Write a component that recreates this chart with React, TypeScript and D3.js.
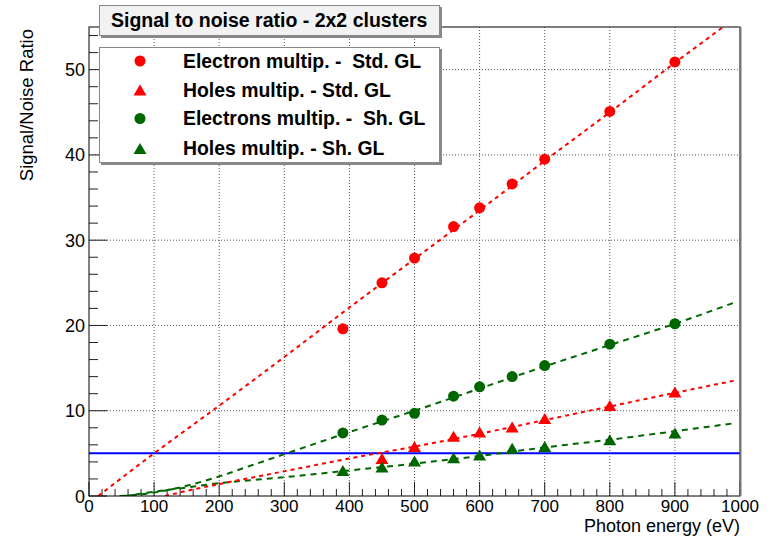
import React, { useEffect, useRef } from "react";
import * as d3 from "d3";

// energies (eV) of the measured points
const energies = [390, 450, 500, 560, 600, 650, 700, 800, 900];
const energiesHolesStd = [450, 500, 560, 600, 650, 700, 800, 900];

// signal / noise values
const electronStd = [19.6, 25.0, 27.9, 31.6, 33.8, 36.6, 39.5, 45.1, 50.9];
const holesStd = [4.4, 5.8, 7.0, 7.5, 8.1, 9.1, 10.6, 12.2];
const electronSh = [7.4, 8.9, 9.7, 11.7, 12.8, 14.0, 15.3, 17.8, 20.2];
const holesSh = [3.0, 3.4, 4.1, 4.5, 4.8, 5.6, 5.8, 6.6, 7.4];

// fit curves as [energy, S/N]
const fitElectronStd: [number, number][] = [
  [14, 0], [100, 5.0], [200, 10.6], [300, 16.3], [400, 22.1], [500, 27.8],
  [600, 33.5], [700, 39.3], [800, 45.0], [900, 50.8], [974, 55],
];
const fitHolesStd: [number, number][] = [
  [117, 0], [150, 0.6], [200, 1.4], [300, 2.9], [400, 4.4], [500, 5.8],
  [600, 7.3], [700, 8.9], [800, 10.5], [900, 12.1], [996, 13.6],
];
const fitElectronSh: [number, number][] = [
  [47, 0], [75, 0.15], [100, 0.4], [150, 1.2], [200, 2.3], [250, 3.6],
  [300, 4.9], [400, 7.5], [500, 10.0], [600, 12.6], [700, 15.2],
  [800, 17.7], [900, 20.2], [992, 22.7],
];
const fitHolesSh: [number, number][] = [
  [55, 0], [100, 0.5], [150, 1.0], [200, 1.5], [300, 2.2], [400, 3.0],
  [500, 3.8], [600, 4.7], [700, 5.7], [800, 6.6], [900, 7.6], [988, 8.5],
];

const threshold = 5;

const legendLabels = [
  "Electron multip. -  Std. GL",
  "Holes multip. - Std. GL",
  "Electrons multip. -  Sh. GL",
  "Holes multip. - Sh. GL",
];

const xMajor = d3.range(0, 1001, 100);
const xMinor = d3.range(0, 1001, 20);
const yMajor = d3.range(0, 51, 10);
const yMinor = d3.range(0, 55, 2);

const RED = "#ff0000";
const GREEN = "#006600";
const FONT = "'Liberation Sans', Arial, Helvetica, sans-serif";

const triPath = "M0,-5.5L6.5,5.5L-6.5,5.5Z";

function App() {
  const ref = useRef<SVGSVGElement>(null);

  useEffect(() => {
    const svg = d3.select(ref.current);
    svg.selectAll("*").remove();

    const left = 89, right = 740, top = 27, bottom = 496;
    const x = d3.scaleLinear().domain([0, 1000]).range([left, right]);
    const y = d3.scaleLinear().domain([0, 55]).range([bottom, top]);

    svg.append("defs").append("clipPath").attr("id", "frame")
      .append("rect").attr("x", left).attr("y", top)
      .attr("width", right - left).attr("height", bottom - top);

    // frame background
    svg.append("rect").attr("x", left).attr("y", top)
      .attr("width", right - left).attr("height", bottom - top)
      .attr("fill", "white");

    // grid
    const grid = svg.append("g").attr("stroke", "#555").attr("stroke-width", 1)
      .attr("stroke-dasharray", "1,2");
    grid.selectAll(".gx").data(xMajor.slice(1, -1)).enter().append("line")
      .attr("x1", (d) => x(d)).attr("x2", (d) => x(d))
      .attr("y1", top).attr("y2", bottom);
    grid.selectAll(".gy").data(yMajor.slice(1)).enter().append("line")
      .attr("x1", left).attr("x2", right)
      .attr("y1", (d) => y(d)).attr("y2", (d) => y(d));

    // ticks
    const ticks = svg.append("g").attr("stroke", "#222").attr("stroke-width", 1);
    ticks.selectAll(".tx").data(xMinor).enter().append("line")
      .attr("x1", (d) => x(d)).attr("x2", (d) => x(d))
      .attr("y1", bottom)
      .attr("y2", (d) => bottom - (d % 100 === 0 ? 14 : 7));
    ticks.selectAll(".ty").data(yMinor).enter().append("line")
      .attr("y1", (d) => y(d)).attr("y2", (d) => y(d))
      .attr("x1", left)
      .attr("x2", (d) => left + (d % 10 === 0 ? 18 : 9));

    // threshold line
    svg.append("line")
      .attr("x1", x(0)).attr("x2", x(1000))
      .attr("y1", y(threshold)).attr("y2", y(threshold))
      .attr("stroke", "#0000ff").attr("stroke-width", 2);

    // fits
    const line = d3.line<[number, number]>()
      .x((d) => x(d[0])).y((d) => y(d[1]))
      .curve(d3.curveMonotoneX);
    const fits: [[number, number][], string, string][] = [
      [fitElectronSh, GREEN, "6,5"],
      [fitHolesSh, GREEN, "6,5"],
      [fitHolesStd, RED, "4,4"],
      [fitElectronStd, RED, "4,4"],
    ];
    const fitG = svg.append("g").attr("clip-path", "url(#frame)");
    fits.forEach(([pts, color, dash]) => {
      fitG.append("path").attr("d", line(pts))
        .attr("fill", "none").attr("stroke", color)
        .attr("stroke-width", 2).attr("stroke-dasharray", dash);
    });

    // markers
    const circles = (xs: number[], ys: number[], color: string) => {
      svg.append("g").selectAll("circle").data(ys).enter().append("circle")
        .attr("cx", (d, i) => x(xs[i])).attr("cy", (d) => y(d))
        .attr("r", 5.5).attr("fill", color);
    };
    const triangles = (xs: number[], ys: number[], color: string) => {
      svg.append("g").selectAll("path").data(ys).enter().append("path")
        .attr("d", triPath)
        .attr("transform", (d, i) => `translate(${x(xs[i])},${y(d)})`)
        .attr("fill", color);
    };
    circles(energies, electronStd, RED);
    triangles(energiesHolesStd, holesStd, RED);
    circles(energies, electronSh, GREEN);
    triangles(energies, holesSh, GREEN);

    // frame
    svg.append("rect").attr("x", left).attr("y", top)
      .attr("width", right - left).attr("height", bottom - top)
      .attr("fill", "none").attr("stroke", "black").attr("stroke-width", 1);
    svg.append("line").attr("x1", right + 0.5).attr("x2", right + 0.5)
      .attr("y1", top).attr("y2", bottom)
      .attr("stroke", "#777").attr("stroke-width", 2);

    // tick labels
    svg.append("g").selectAll("text").data(xMajor).enter().append("text")
      .attr("x", (d) => x(d)).attr("y", 512)
      .attr("text-anchor", "middle")
      .attr("font-family", FONT).attr("font-size", 17)
      .text((d) => d);
    svg.append("g").selectAll("text").data(yMajor).enter().append("text")
      .attr("x", 85).attr("y", (d) => y(d) + 6.5)
      .attr("text-anchor", "end")
      .attr("font-family", FONT).attr("font-size", 18)
      .text((d) => d);

    // axis titles
    svg.append("text").attr("x", right).attr("y", 532)
      .attr("text-anchor", "end").attr("font-family", FONT)
      .attr("font-size", 18).text("Photon energy (eV)");
    svg.append("text").attr("transform", `translate(33,${top + 2}) rotate(-90)`)
      .attr("text-anchor", "end").attr("font-family", FONT)
      .attr("font-size", 18.5).text("Signal/Noise Ratio");

    // title box
    svg.append("rect").attr("x", 101).attr("y", 7).attr("width", 341).attr("height", 31)
      .attr("fill", "#888");
    svg.append("rect").attr("x", 99.5).attr("y", 5.5).attr("width", 340).attr("height", 30)
      .attr("fill", "#f2f2f2").attr("stroke", "#888");
    svg.append("text").attr("x", 111).attr("y", 26.5)
      .attr("font-family", FONT).attr("font-weight", "bold").attr("font-size", 19.5)
      .text("Signal to noise ratio - 2x2 clusters");

    // legend
    svg.append("rect").attr("x", 101).attr("y", 49).attr("width", 341).attr("height", 116)
      .attr("fill", "#888");
    svg.append("rect").attr("x", 99.5).attr("y", 47.5).attr("width", 340).attr("height", 115)
      .attr("fill", "white").attr("stroke", "#888");
    const rows = [61, 90, 118.5, 148.5];
    const legendStyle: [string, string][] = [
      ["circle", RED], ["tri", RED], ["circle", GREEN], ["tri", GREEN],
    ];
    legendLabels.forEach((label, i) => {
      const [shape, color] = legendStyle[i];
      if (shape === "circle") {
        svg.append("circle").attr("cx", 140).attr("cy", rows[i]).attr("r", 5.5).attr("fill", color);
      } else {
        svg.append("path").attr("d", triPath)
          .attr("transform", `translate(140,${rows[i]})`).attr("fill", color);
      }
      svg.append("text").attr("x", 183).attr("y", rows[i] + 6.5)
        .attr("font-family", FONT).attr("font-weight", "bold").attr("font-size", 19.4)
        .style("white-space", "pre")
        .text(label);
    });
  }, []);

  return (
    <div>
      <svg ref={ref} width="772" height="538"
        style={{ position: "absolute", left: 0, top: 0, background: "white" }}></svg>
    </div>
  );
}

export default App;
